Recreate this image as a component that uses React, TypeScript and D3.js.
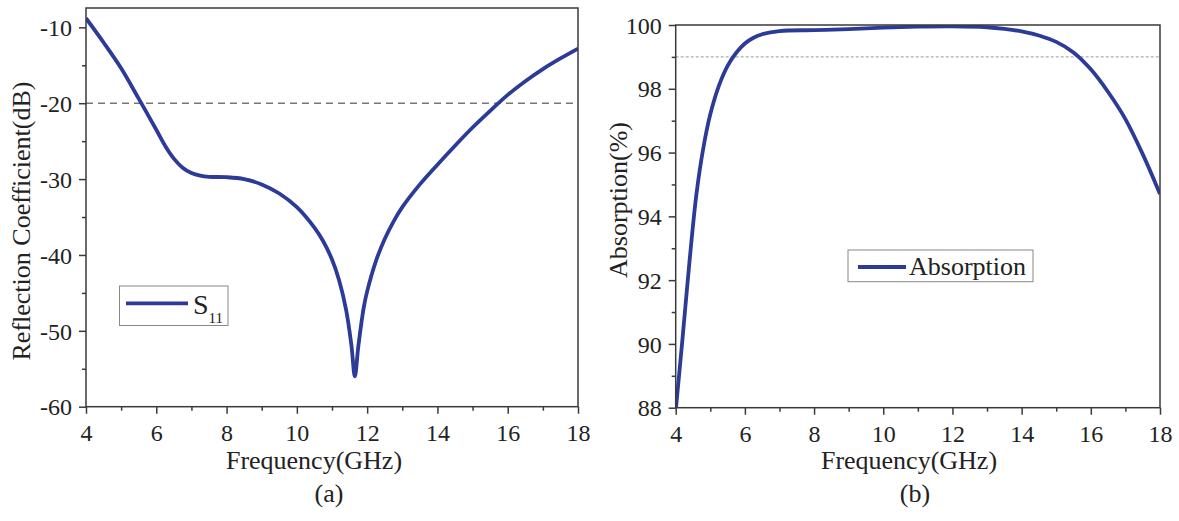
import React, { useRef, useEffect } from 'react';
import * as d3 from 'd3';

// panel (a): reflection coefficient
const freqA = [4, 4.5, 5, 5.5, 6, 6.25, 6.5, 6.75, 7, 7.25, 7.5, 8, 8.5, 9, 9.5, 10, 10.5, 10.75, 11, 11.2, 11.4, 11.55, 11.65, 11.75, 11.9, 12, 12.25, 12.5, 12.75, 13, 13.5, 14, 14.5, 15, 15.5, 16, 16.5, 17, 17.5, 18];
const s11 = [-8.8, -12.0, -15.4, -19.4, -23.5, -25.6, -27.3, -28.5, -29.2, -29.55, -29.7, -29.75, -30.0, -30.7, -31.9, -33.7, -36.4, -38.2, -40.6, -43.3, -47.2, -51.8, -56.0, -52.0, -47.0, -44.8, -40.8, -37.9, -35.6, -33.7, -30.7, -28.1, -25.6, -23.2, -21.0, -18.9, -17.1, -15.5, -14.1, -12.8];

// panel (b): absorption
const freqB = [4, 4.2, 4.4, 4.6, 4.8, 5, 5.25, 5.5, 5.75, 6, 6.25, 6.5, 7, 8, 9, 10, 11, 12, 13, 13.5, 14, 14.5, 15, 15.5, 16, 16.5, 17, 17.5, 18];
const absorption = [87.9, 90.2, 92.6, 94.7, 96.15, 97.2, 98.1, 98.72, 99.13, 99.42, 99.6, 99.71, 99.81, 99.84, 99.87, 99.92, 99.95, 99.96, 99.93, 99.88, 99.8, 99.67, 99.47, 99.14, 98.61, 97.9, 97.05, 95.95, 94.7];

const freqTicks = [4, 6, 8, 10, 12, 14, 16, 18];
const freqMinor = [5, 7, 9, 11, 13, 15, 17];
const s11Ticks = [-60, -50, -40, -30, -20, -10];
const s11Minor = [-55, -45, -35, -25, -15];
const absTicks = [88, 90, 92, 94, 96, 98, 100];
const absMinor = [89, 91, 93, 95, 97, 99];

const FONT = '"Liberation Serif", "Times New Roman", serif';
const BLUE = '#2c3a98';
const FRAME = '#3a3a3a';

type Panel = {
  x0: number; x1: number; y0: number; y1: number;
  yDomain: [number, number];
  xs: number[]; ys: number[];
  yTicks: number[]; yMinor: number[];
  ref: number; refColor: string; refDash: string; refWidth: number;
  yTitle: string; yTitleX: number; yTitleY: number;
  xTitleX: number; tag: string; tagX: number;
  clipId: string;
};

// plain hyphen for negatives, like the original figure
const fmt = (d: d3.NumberValue) => String(d);

const drawPanel = (svg: d3.Selection<SVGSVGElement, unknown, null, undefined>, p: Panel) => {
  const x = d3.scaleLinear().domain([4, 18]).range([p.x0, p.x1]);
  const y = d3.scaleLinear().domain(p.yDomain).range([p.y1, p.y0]);

  svg.append('clipPath').attr('id', p.clipId)
    .append('rect')
    .attr('x', p.x0).attr('y', p.y0)
    .attr('width', p.x1 - p.x0).attr('height', p.y1 - p.y0);

  // reference line
  svg.append('line')
    .attr('x1', p.x0).attr('x2', p.x1)
    .attr('y1', y(p.ref)).attr('y2', y(p.ref))
    .attr('stroke', p.refColor)
    .attr('stroke-width', p.refWidth)
    .attr('stroke-dasharray', p.refDash);

  const line = d3.line<number>()
    .x((_, i) => x(p.xs[i]))
    .y(d => y(d))
    .curve(d3.curveCatmullRom.alpha(0.5));

  svg.append('path')
    .datum(p.ys)
    .attr('clip-path', `url(#${p.clipId})`)
    .attr('fill', 'none')
    .attr('stroke', BLUE)
    .attr('stroke-width', 3.8)
    .attr('stroke-linejoin', 'round')
    .attr('d', line);

  // axes
  const styleAxis = (g: d3.Selection<SVGGElement, unknown, null, undefined>) => {
    g.attr('font-family', FONT);
    g.select('.domain').remove();
    g.selectAll('line').attr('stroke', FRAME).attr('stroke-width', 1.5);
    g.selectAll('text')
      .attr('fill', '#222')
      .style('font-family', FONT)
      .style('font-size', '24px');
  };

  const xAxis = svg.append('g')
    .attr('transform', `translate(0,${p.y1})`)
    .call(d3.axisBottom(x).tickValues(freqTicks).tickSize(7).tickPadding(10).tickFormat(fmt));
  styleAxis(xAxis);
  xAxis.selectAll('text').attr('dy', 0).attr('y', 34);

  const xMinor = svg.append('g')
    .attr('transform', `translate(0,${p.y1})`)
    .call(d3.axisBottom(x).tickValues(freqMinor).tickSize(4).tickFormat(() => ''));
  styleAxis(xMinor);

  const yAxis = svg.append('g')
    .attr('transform', `translate(${p.x0},0)`)
    .call(d3.axisLeft(y).tickValues(p.yTicks).tickSize(7).tickPadding(7).tickFormat(fmt));
  styleAxis(yAxis);
  yAxis.selectAll('text').attr('dy', '0.34em');

  const yMinor = svg.append('g')
    .attr('transform', `translate(${p.x0},0)`)
    .call(d3.axisLeft(y).tickValues(p.yMinor).tickSize(4).tickFormat(() => ''));
  styleAxis(yMinor);

  // frame
  svg.append('rect')
    .attr('x', p.x0).attr('y', p.y0)
    .attr('width', p.x1 - p.x0).attr('height', p.y1 - p.y0)
    .attr('fill', 'none')
    .attr('stroke', FRAME)
    .attr('stroke-width', 1.5);

  // titles
  svg.append('text')
    .attr('transform', `translate(${p.yTitleX},${p.yTitleY}) rotate(-90)`)
    .attr('text-anchor', 'middle')
    .style('font-family', FONT).style('font-size', '26px').attr('fill', '#222')
    .text(p.yTitle);

  svg.append('text')
    .attr('x', p.xTitleX).attr('y', 469)
    .attr('text-anchor', 'middle')
    .style('font-family', FONT).style('font-size', '26px').attr('fill', '#222')
    .text('Frequency(GHz)');

  svg.append('text')
    .attr('x', p.tagX).attr('y', 502)
    .attr('text-anchor', 'middle')
    .style('font-family', FONT).style('font-size', '26px').attr('fill', '#222')
    .text(p.tag);
};

const App = () => {
  const svgRef = useRef<SVGSVGElement>(null);

  useEffect(() => {
    const svg = d3.select(svgRef.current as SVGSVGElement);
    svg.selectAll('*').remove();

    drawPanel(svg, {
      x0: 86, x1: 578, y0: 8, y1: 406.7,
      yDomain: [-60, -7.45],
      xs: freqA, ys: s11,
      yTicks: s11Ticks, yMinor: s11Minor,
      ref: -20, refColor: '#777', refDash: '7,5', refWidth: 1.5,
      yTitle: 'Reflection Coefficient(dB)', yTitleX: 30, yTitleY: 221,
      xTitleX: 314, tag: '(a)', tagX: 329, clipId: 'clipA',
    });

    drawPanel(svg, {
      x0: 675.7, x1: 1160, y0: 25, y1: 407.7,
      yDomain: [88, 100],
      xs: freqB, ys: absorption,
      yTicks: absTicks, yMinor: absMinor,
      ref: 99, refColor: '#999', refDash: '3,2', refWidth: 1,
      yTitle: 'Absorption(%)', yTitleX: 627, yTitleY: 200,
      xTitleX: 909, tag: '(b)', tagX: 915, clipId: 'clipB',
    });

    // legend (a)
    const la = svg.append('g');
    la.append('rect')
      .attr('x', 119.5).attr('y', 286).attr('width', 108.5).attr('height', 39.5)
      .attr('fill', 'white').attr('stroke', '#888').attr('stroke-width', 1);
    la.append('line')
      .attr('x1', 126).attr('x2', 188).attr('y1', 303.3).attr('y2', 303.3)
      .attr('stroke', BLUE).attr('stroke-width', 3.8);
    const sText = la.append('text')
      .attr('x', 193).attr('y', 313.5)
      .style('font-family', FONT).style('font-size', '28px').attr('fill', '#222');
    sText.append('tspan').text('S');
    sText.append('tspan').attr('dy', 9).style('font-size', '15px').text('11');

    // legend (b)
    const lb = svg.append('g');
    lb.append('rect')
      .attr('x', 848).attr('y', 250).attr('width', 185).attr('height', 31.7)
      .attr('fill', 'white').attr('stroke', '#888').attr('stroke-width', 1);
    lb.append('line')
      .attr('x1', 858).attr('x2', 906).attr('y1', 267).attr('y2', 267)
      .attr('stroke', BLUE).attr('stroke-width', 3.8);
    lb.append('text')
      .attr('x', 909).attr('y', 275)
      .style('font-family', FONT).style('font-size', '26px').attr('fill', '#222')
      .text('Absorption');
  }, []);

  return (
    <svg
      ref={svgRef}
      width={1179}
      height={521}
      style={{ position: 'absolute', left: 0, top: 0, background: 'white' }}
    />
  );
};

export default App;
